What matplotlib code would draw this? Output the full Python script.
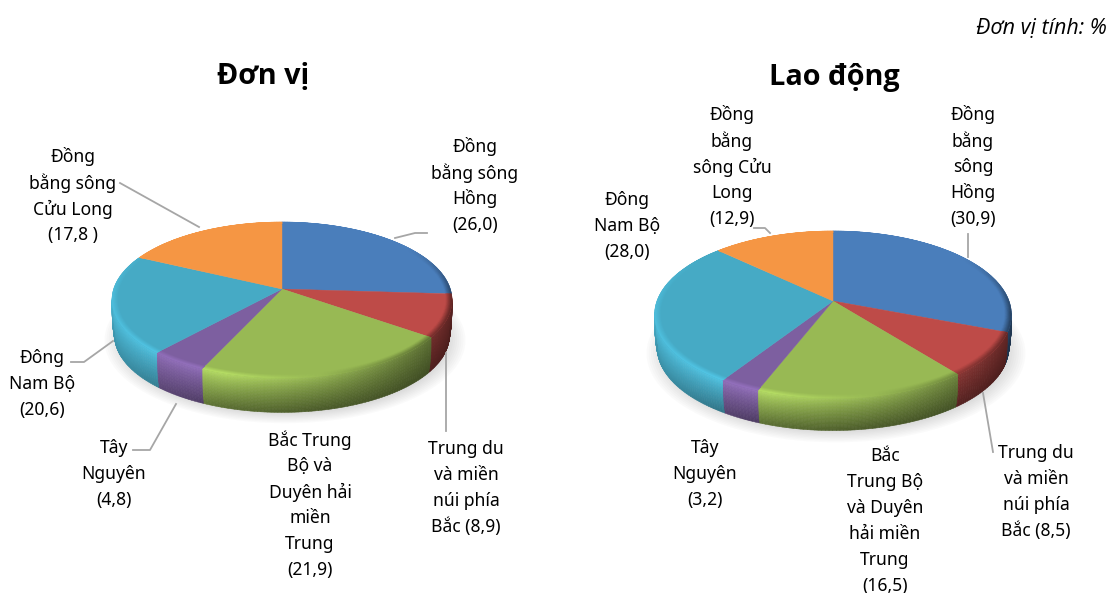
import numpy as np
import matplotlib
matplotlib.use("Agg")
import matplotlib.pyplot as plt
from matplotlib.collections import PolyCollection

plt.rcParams["font.family"] = ["Noto Sans", "DejaVu Sans"]

# số liệu (%), theo chiều kim đồng hồ từ đỉnh
values_don_vi = [26.0, 8.9, 21.9, 4.8, 20.6, 17.8]
values_lao_dong = [30.9, 8.5, 16.5, 3.2, 28.0, 12.9]
colors = ["#4A7EBB", "#BE4B48", "#98B954", "#7D5FA0", "#46AAC5", "#F59644"]

labels_don_vi = [
    ["Đồng", "bằng sông", "Hồng", "(26,0)"],
    ["Trung du", "và miền", "núi phía", "Bắc (8,9)"],
    ["Bắc Trung", "Bộ và", "Duyên hải", "miền", "Trung", "(21,9)"],
    ["Tây", "Nguyên", "(4,8)"],
    ["Đông", "Nam Bộ", "(20,6)"],
    ["Đồng", "bằng sông", "Cửu Long", "(17,8 )"],
]
labels_lao_dong = [
    ["Đồng", "bằng", "sông", "Hồng", "(30,9)"],
    ["Trung du", "và miền", "núi phía", "Bắc (8,5)"],
    ["Bắc", "Trung Bộ", "và Duyên", "hải miền", "Trung", "(16,5)"],
    ["Tây", "Nguyên", "(3,2)"],
    ["Đông", "Nam Bộ", "(28,0)"],
    ["Đồng", "bằng", "sông Cửu", "Long", "(12,9)"],
]

# vị trí nhãn: tâm x, y dòng đầu (pixel)
pos_don_vi = [(475, 147), (466, 449), (310, 440), (114, 448), (42, 358), (73, 157)]
pos_lao_dong = [(973, 115), (1036, 453), (885, 456), (705, 448), (627, 200), (732, 115)]

leaders_don_vi = [
    [(395, 238), (415, 233), (427, 233)],
    [(446, 353), (446, 431)],
    [(176, 404), (150, 450), (133, 450)],
    [(113, 341), (84, 362), (71, 362)],
    [(199, 227), (120, 183)],
]
leaders_lao_dong = [
    [(968, 257), (968, 234)],
    [(983, 393), (993, 452)],
    [(770, 233), (765, 228), (754, 228)],
]

LINE_H = 26
LEADER = "#A6A6A6"


def project(theta, cx, cy, a, b, k, r=1.0, d=0.0):
    """Điểm trên mặt đĩa -> pixel, có phối cảnh nhẹ (k)."""
    u = r * np.sin(theta)
    v = r * np.cos(theta)
    w = 1 + k * v
    return cx + a * u / w, cy - b * v / w + d


def brightness(u, t):
    top = np.interp(u, [-1, -0.3, 0.2, 1], [1.12, 1.2, 1.0, 0.5])
    bot = np.interp(u, [-1, -0.3, 0.2, 1], [0.88, 0.58, 0.48, 0.4])
    return top + (bot - top) * t ** 0.8


def draw_pie(ax, values, cx, cy, a, b, k, depth):
    # bóng mờ
    theta = np.linspace(0, 2 * np.pi, 200)
    for r in np.linspace(1.06, 0.93, 12):
        x, y = project(theta, cx + 3, cy, a, b, k, r=r, d=depth + 3)
        ax.fill(x, y, color="#7F7F7F", alpha=0.033, lw=0, zorder=1)

    edges = np.radians(np.concatenate([[0], np.cumsum(values)]) * 3.6)

    # thành đĩa
    polys, cols = [], []
    ts = np.linspace(0, 1, 25)
    for i, col in enumerate(colors):
        base = np.array(matplotlib.colors.to_rgb(col))
        n = max(int(np.degrees(edges[i + 1] - edges[i])), 2)
        th = np.linspace(edges[i], edges[i + 1], n + 1)
        for t0, t1 in zip(ts[:-1], ts[1:]):
            for a0, a1 in zip(th[:-1], th[1:]):
                am = (a0 + a1) / 2
                if np.cos(am) > -k + 0.02:
                    continue
                r0, r1 = 1 - 0.015 * t0 ** 3, 1 - 0.015 * t1 ** 3
                p = [project(a0, cx, cy, a, b, k, r0, depth * t0),
                     project(a1, cx, cy, a, b, k, r0, depth * t0),
                     project(a1, cx, cy, a, b, k, r1, depth * t1),
                     project(a0, cx, cy, a, b, k, r1, depth * t1)]
                polys.append(p)
                cols.append(np.clip(base * brightness(np.sin(am), (t0 + t1) / 2), 0, 1))
    ax.add_collection(PolyCollection(polys, facecolors=cols, edgecolors="face",
                                     linewidths=0.4, zorder=2))

    # mặt trên
    for i, col in enumerate(colors):
        th = np.linspace(edges[i], edges[i + 1], 80)
        x, y = project(th, cx, cy, a, b, k)
        ax.fill(np.r_[cx, x], np.r_[cy, y], color=col, lw=0.3, zorder=3)

    # viền vát quanh mặt trên
    polys, cols = [], []
    rs = np.linspace(0.965, 1.0, 9)
    for i, col in enumerate(colors):
        base = np.array(matplotlib.colors.to_rgb(col))
        n = max(int(np.degrees(edges[i + 1] - edges[i])), 2)
        th = np.linspace(edges[i], edges[i + 1], n + 1)
        for r0, r1 in zip(rs[:-1], rs[1:]):
            f = ((r0 + r1) / 2 - rs[0]) / (rs[-1] - rs[0])
            for a0, a1 in zip(th[:-1], th[1:]):
                am = (a0 + a1) / 2
                w = np.clip(0.8 - np.cos(am) * 1.4, 0, 1)
                m = 1 + (brightness(np.sin(am), 0) - 1) * f * w
                polys.append([project(a0, cx, cy, a, b, k, r0),
                              project(a1, cx, cy, a, b, k, r0),
                              project(a1, cx, cy, a, b, k, r1),
                              project(a0, cx, cy, a, b, k, r1)])
                cols.append(np.clip(base * m, 0, 1))
    ax.add_collection(PolyCollection(polys, facecolors=cols, edgecolors="face",
                                     linewidths=0.4, zorder=4))


def draw_labels(ax, labels, pos, fs=12.6):
    for lines, (x, y) in zip(labels, pos):
        for j, s in enumerate(lines):
            ax.text(x, y + j * LINE_H, s, ha="center", va="center", fontsize=fs,
                    color="black", zorder=6)


fig = plt.figure(figsize=(11.1, 5.93), dpi=100, facecolor="white")
ax = fig.add_axes([0, 0, 1, 1])
ax.set_xlim(0, 1110)
ax.set_ylim(593, 0)
ax.axis("off")

draw_pie(ax, values_don_vi, 282, 289, 168.3, 76.4, 0.141, 36)
draw_pie(ax, values_lao_dong, 833, 301, 176, 81.4, 0.163, 34)

for path in leaders_don_vi + leaders_lao_dong:
    xs, ys = zip(*path)
    ax.plot(xs, ys, color=LEADER, lw=1.3, zorder=5, solid_joinstyle="round")

draw_labels(ax, labels_don_vi, pos_don_vi)
draw_labels(ax, labels_lao_dong, pos_lao_dong)

title_font = ["Open Sans", "DejaVu Sans"]
ax.text(263, 77, "Đơn vị", ha="center", va="center", fontsize=20.8, fontweight="bold",
        color="black", family=title_font)
ax.text(834, 77, "Lao động", ha="center", va="center", fontsize=20.8, fontweight="bold",
        color="black", family=title_font)
ax.text(1107, 28, "Đơn vị tính: %", ha="right", va="center", fontsize=15.5, style="italic",
        color="black", family=title_font)

fig.savefig("out.png", dpi=100)
